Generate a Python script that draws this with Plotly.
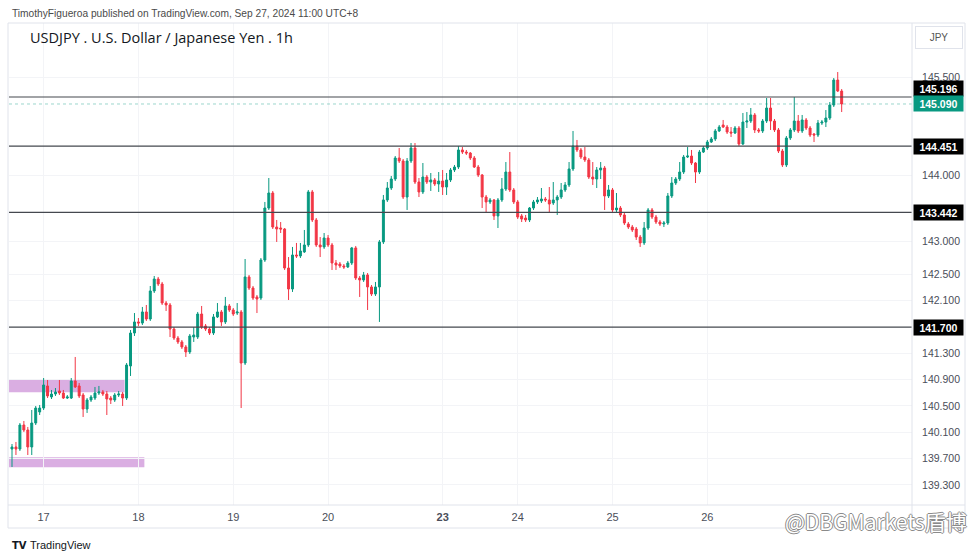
import plotly.graph_objects as go
import pandas as pd

# ---------------- data ----------------
symbol_title = "USDJPY . U.S. Dollar / Japanese Yen . 1h"
published_text = "TimothyFigueroa published on TradingView.com, Sep 27, 2024 11:00 UTC+8"
currency_label = "JPY"
watermark_text = "@DBGMarkets盾博"

session_1 = pd.date_range("2024-09-16 16:00", "2024-09-21 04:00", freq="h")
session_2 = pd.date_range("2024-09-23 05:00", "2024-09-27 10:00", freq="h")
times = [t.strftime("%Y-%m-%d %H:%M") for t in list(session_1) + list(session_2)]

open_ = [
    139.846, 139.877, 139.846, 140.211, 140.135, 139.877, 140.241, 140.409, 140.469, 140.804,
    140.637, 140.682, 140.728, 140.697, 140.621, 140.621, 140.880, 140.804, 140.667, 140.454,
    140.591, 140.621, 140.697, 140.713, 140.682, 140.621, 140.591, 140.667, 140.682, 140.621,
    141.108, 141.609, 141.777, 141.761, 141.929, 141.822, 142.248, 142.430, 142.354, 142.065,
    142.035, 141.670, 141.533, 141.473, 141.397, 141.321, 141.548, 141.548, 141.898, 141.716,
    141.670, 141.609, 141.853, 141.929, 141.777, 142.020, 141.959, 141.913, 141.929, 141.153,
    142.461, 142.293, 142.157, 142.141, 142.719, 143.509, 143.737, 143.220, 143.205, 143.190,
    142.597, 142.278, 142.795, 142.780, 142.841, 142.947, 143.753, 143.327, 142.947, 142.917,
    143.053, 142.947, 142.673, 142.658, 142.628, 142.613, 142.673, 142.902, 142.445, 142.415,
    142.491, 142.309, 142.202, 142.309, 142.993, 143.631, 143.813, 143.950, 144.269, 144.224,
    143.676, 144.224, 144.421, 143.904, 143.753, 143.980, 143.904, 143.935, 143.874, 143.919,
    143.828, 143.935, 144.087, 144.132, 144.391, 144.360, 144.345, 144.269, 144.132, 144.011,
    143.676, 143.601, 143.631, 143.388, 143.631, 143.798, 144.056, 143.783, 143.601, 143.388,
    143.357, 143.327, 143.509, 143.601, 143.616, 143.646, 143.631, 143.585, 143.631, 143.676,
    143.783, 143.859, 144.102, 144.451, 144.391, 144.284, 144.239, 143.980, 143.950, 144.087,
    144.117, 143.692, 143.783, 143.479, 143.509, 143.403, 143.266, 143.220, 143.190, 143.068,
    142.978, 143.205, 143.479, 143.372, 143.296, 143.266, 143.281, 143.692, 143.889, 143.950,
    144.056, 144.284, 144.299, 144.193, 144.056, 144.360, 144.421, 144.512, 144.558, 144.680,
    144.771, 144.740, 144.664, 144.649, 144.725, 144.482, 144.816, 144.831, 144.923, 144.695,
    144.680, 144.831, 145.029, 144.831, 144.695, 144.375, 144.163, 144.573, 144.695, 144.831,
    144.680, 144.847, 144.725, 144.634, 144.618, 144.801, 144.816, 144.877, 145.074, 145.454,
    145.287,
]
high = [
    139.922, 139.953, 140.241, 140.272, 140.181, 140.439, 140.500, 140.515, 140.925, 140.895,
    140.743, 140.773, 140.895, 140.743, 140.667, 140.925, 141.245, 140.849, 140.697, 140.621,
    140.667, 140.789, 140.804, 140.743, 140.728, 140.652, 140.697, 140.728, 140.713, 141.153,
    141.655, 141.913, 141.837, 142.005, 142.035, 142.324, 142.476, 142.461, 142.385, 142.096,
    142.065, 141.700, 141.564, 141.503, 141.427, 141.594, 141.700, 141.929, 142.020, 141.746,
    141.700, 141.898, 142.065, 141.959, 142.157, 142.050, 141.989, 142.065, 141.959, 142.734,
    142.491, 142.324, 142.187, 142.749, 143.601, 143.965, 143.768, 143.327, 143.296, 143.205,
    142.764, 142.917, 142.978, 142.978, 143.175, 143.783, 143.783, 143.357, 143.068, 143.129,
    143.099, 142.978, 142.719, 142.689, 142.658, 142.704, 142.917, 142.932, 142.476, 142.537,
    142.521, 142.339, 142.385, 143.023, 143.707, 143.904, 143.996, 144.299, 144.421, 144.254,
    144.269, 144.497, 144.497, 143.965, 144.193, 144.011, 144.041, 143.965, 144.056, 144.087,
    144.041, 144.117, 144.163, 144.451, 144.436, 144.391, 144.360, 144.299, 144.163, 144.026,
    143.707, 143.661, 143.646, 143.661, 143.965, 144.208, 144.360, 143.813, 143.631, 143.418,
    143.403, 143.524, 143.631, 143.676, 143.813, 143.676, 143.828, 143.904, 143.707, 143.889,
    143.904, 144.208, 144.680, 144.543, 144.421, 144.436, 144.269, 144.208, 144.132, 144.208,
    144.148, 143.859, 143.813, 143.737, 143.539, 143.433, 143.296, 143.251, 143.220, 143.099,
    143.296, 143.509, 143.509, 143.403, 143.327, 143.312, 143.737, 143.980, 143.980, 144.208,
    144.315, 144.436, 144.391, 144.208, 144.391, 144.451, 144.543, 144.588, 144.710, 144.771,
    144.847, 144.771, 144.740, 144.755, 144.755, 144.953, 144.968, 145.029, 144.953, 144.725,
    144.862, 145.181, 145.181, 144.862, 144.725, 144.406, 144.603, 144.725, 145.196, 144.923,
    144.923, 144.877, 144.755, 144.649, 144.847, 144.847, 144.998, 145.120, 145.485, 145.576,
    145.317,
]
low = [
    139.573, 139.755, 139.816, 140.105, 139.755, 139.755, 140.211, 140.363, 140.439, 140.621,
    140.606, 140.652, 140.667, 140.606, 140.606, 140.606, 140.773, 140.621, 140.333, 140.394,
    140.561, 140.591, 140.667, 140.652, 140.363, 140.530, 140.561, 140.637, 140.500, 140.591,
    140.956, 141.564, 141.716, 141.731, 141.792, 141.792, 142.217, 142.324, 142.035, 141.944,
    141.548, 141.503, 141.442, 141.366, 141.245, 141.290, 141.473, 141.518, 141.670, 141.640,
    141.579, 141.579, 141.837, 141.716, 141.746, 141.929, 141.868, 141.883, 140.469, 141.123,
    142.263, 142.111, 141.913, 142.111, 142.689, 143.479, 143.190, 142.993, 143.129, 142.567,
    142.111, 142.233, 142.749, 142.749, 142.826, 142.917, 143.296, 142.917, 142.764, 142.887,
    142.917, 142.567, 142.567, 142.597, 142.582, 142.597, 142.643, 142.415, 142.157, 142.385,
    141.959, 142.172, 142.172, 141.777, 142.962, 143.601, 143.783, 143.919, 144.193, 143.646,
    143.479, 144.193, 143.874, 143.676, 143.722, 143.874, 143.768, 143.844, 143.753, 143.707,
    143.707, 143.904, 144.056, 144.102, 144.330, 144.315, 144.239, 144.117, 143.980, 143.509,
    143.448, 143.570, 143.327, 143.205, 143.601, 143.768, 143.753, 143.570, 143.342, 143.296,
    143.296, 143.296, 143.479, 143.570, 143.585, 143.601, 143.433, 143.555, 143.403, 143.646,
    143.753, 143.828, 144.071, 144.360, 144.254, 144.208, 143.950, 143.859, 143.813, 143.950,
    143.479, 143.661, 143.448, 143.448, 143.372, 143.251, 143.190, 143.144, 143.023, 142.917,
    142.947, 143.175, 143.342, 143.266, 143.236, 143.220, 143.251, 143.661, 143.859, 143.919,
    144.026, 144.269, 144.163, 143.889, 144.026, 144.345, 144.391, 144.497, 144.528, 144.664,
    144.725, 144.634, 144.588, 144.634, 144.451, 144.467, 144.725, 144.801, 144.649, 144.649,
    144.649, 144.801, 144.695, 144.664, 144.345, 144.132, 144.132, 144.543, 144.664, 144.649,
    144.649, 144.695, 144.588, 144.512, 144.588, 144.771, 144.740, 144.847, 145.044, 145.272,
    144.968,
]
close = [
    139.877, 139.846, 140.211, 140.135, 139.877, 140.241, 140.469, 140.469, 140.819, 140.652,
    140.682, 140.713, 140.697, 140.621, 140.637, 140.880, 140.789, 140.652, 140.454, 140.591,
    140.637, 140.697, 140.713, 140.682, 140.606, 140.591, 140.667, 140.682, 140.621, 141.123,
    141.609, 141.777, 141.761, 141.929, 141.822, 142.248, 142.430, 142.354, 142.065, 142.035,
    141.670, 141.533, 141.473, 141.397, 141.321, 141.564, 141.579, 141.898, 141.700, 141.670,
    141.609, 141.853, 141.929, 141.777, 142.020, 141.959, 141.898, 141.929, 141.153, 142.461,
    142.293, 142.141, 142.126, 142.719, 143.509, 143.737, 143.220, 143.190, 143.190, 142.597,
    142.278, 142.795, 142.780, 142.856, 142.947, 143.753, 143.327, 142.947, 142.917, 143.053,
    142.947, 142.673, 142.643, 142.628, 142.613, 142.673, 142.902, 142.445, 142.415, 142.491,
    142.309, 142.202, 142.309, 142.993, 143.631, 143.813, 143.950, 144.269, 144.224, 143.676,
    144.224, 144.421, 143.904, 143.753, 143.980, 143.904, 143.935, 143.874, 143.919, 143.828,
    143.935, 144.087, 144.132, 144.391, 144.360, 144.345, 144.269, 144.132, 144.011, 143.676,
    143.601, 143.631, 143.388, 143.631, 143.798, 144.056, 143.783, 143.601, 143.372, 143.342,
    143.327, 143.509, 143.601, 143.631, 143.646, 143.631, 143.570, 143.631, 143.676, 143.783,
    143.859, 144.102, 144.451, 144.391, 144.284, 144.239, 143.980, 143.950, 144.087, 144.117,
    143.692, 143.783, 143.479, 143.509, 143.403, 143.281, 143.220, 143.175, 143.068, 142.978,
    143.205, 143.479, 143.372, 143.296, 143.266, 143.281, 143.692, 143.889, 143.950, 144.056,
    144.284, 144.299, 144.193, 144.056, 144.360, 144.421, 144.512, 144.558, 144.680, 144.740,
    144.740, 144.664, 144.649, 144.725, 144.482, 144.816, 144.831, 144.923, 144.695, 144.680,
    144.831, 145.029, 144.831, 144.695, 144.375, 144.163, 144.573, 144.695, 144.831, 144.680,
    144.847, 144.725, 144.618, 144.618, 144.801, 144.816, 144.877, 145.074, 145.454, 145.287,
    145.090,
]

level_prices = [145.196, 144.451, 143.442, 141.700]
last_price = 145.090

zone_low = [140.71, 139.57]
zone_high = [140.91, 139.72]
zone_end = ["2024-09-17 20:00", "2024-09-18 01:00"]

price_ticks = [139.3, 139.7, 140.1, 140.5, 140.9, 141.3, 142.1, 142.5,
               143.0, 144.0, 145.5]
day_labels = ["17", "18", "19", "20", "23", "24", "25", "26"]
week_start_day = "23"

assert len(times) == len(open_) == len(high) == len(low) == len(close)

# ---------------- layout helpers ----------------
W, H = 975, 559
ML, MR, MT, MB = 9, 63, 23, 54
PW = W - ML - MR
PH = H - MT - MB


def px(x):
    return (x - ML) / PW


def py(y):
    return (H - MB - y) / PH


UP = "#089981"
DOWN = "#F23645"
TXT = "#131722"
AXIS_TXT = "#4a4e59"
FRAME = "#e0e3eb"
GRID = "#f3f4f7"
FONT = "Liberation Sans"

# day ticks: first bar of each labelled day
tick_vals, tick_text = [], []
for d in day_labels:
    for t in times:
        if t[8:10] == d:
            tick_vals.append(t)
            tick_text.append(f"<b>{d}</b>" if d == week_start_day else d)
            break

fig = go.Figure()
fig.add_trace(go.Candlestick(
    x=times, open=open_, high=high, low=low, close=close,
    increasing=dict(line=dict(color=UP, width=1), fillcolor=UP),
    decreasing=dict(line=dict(color=DOWN, width=1), fillcolor=DOWN),
    whiskerwidth=0, showlegend=False, hoverinfo="skip",
))

shapes = []
for lo, hi, end in zip(zone_low, zone_high, zone_end):
    shapes.append(dict(type="rect", xref="x", yref="y",
                       x0=-2, x1=times.index(end) + 0.5, y0=lo, y1=hi,
                       fillcolor="rgba(206,147,216,0.75)", line=dict(width=0),
                       layer="below"))
for lv in level_prices:
    shapes.append(dict(type="line", xref="paper", yref="y", x0=0, x1=1, y0=lv, y1=lv,
                       line=dict(color="#45484f", width=1.2)))
shapes.append(dict(type="line", xref="paper", yref="y", x0=0, x1=1, y0=last_price, y1=last_price,
                   line=dict(color="rgba(8,153,129,0.4)", width=1, dash="dot")))
shapes.append(dict(type="rect", xref="paper", yref="paper", x0=px(8), x1=px(965),
                   y0=py(528), y1=py(23), line=dict(color=FRAME, width=1)))
shapes.append(dict(type="line", xref="paper", yref="paper", x0=1, x1=1,
                   y0=py(528), y1=py(23), line=dict(color=FRAME, width=1)))
shapes.append(dict(type="line", xref="paper", yref="paper", x0=px(8), x1=px(965),
                   y0=0, y1=0, line=dict(color=FRAME, width=1)))

annotations = []
annotations.append(dict(xref="paper", yref="paper", x=px(10), y=py(13), xanchor="left",
                        yanchor="middle", text=published_text, showarrow=False,
                        font=dict(family=FONT, size=10.2, color="#4a4a4a")))
annotations.append(dict(xref="paper", yref="paper", x=px(28), y=py(37), xanchor="left",
                        yanchor="middle", text=symbol_title, showarrow=False,
                        font=dict(family="Open Sans", size=14.5, color=TXT, weight=500)))
annotations.append(dict(xref="paper", yref="paper", x=px(939), y=py(37), xanchor="center",
                        yanchor="middle", text=currency_label, showarrow=False,
                        width=44, height=19, bgcolor="white", bordercolor=FRAME, borderwidth=1,
                        font=dict(family=FONT, size=10, color="#555")))
label_shift = {145.196: 8.5}
for lv in level_prices:
    annotations.append(dict(xref="paper", yref="y", x=px(913), y=lv, xanchor="left",
                            yanchor="middle", text=f"<b>{lv:.3f}</b>", showarrow=False,
                            yshift=label_shift.get(lv, 0),
                            width=47, height=13, bgcolor="#000000", borderpad=1,
                            font=dict(family=FONT, size=10.5, color="white")))
annotations.append(dict(xref="paper", yref="y", x=px(913), y=last_price, xanchor="left",
                        yanchor="middle", text=f"<b>{last_price:.3f}</b>", showarrow=False,
                        width=47, height=13, bgcolor=UP, borderpad=1,
                        font=dict(family=FONT, size=10.5, color="white")))
annotations.append(dict(xref="paper", yref="paper", x=px(10), y=py(545), xanchor="left",
                        yanchor="middle", text="<b>TV</b>", showarrow=False,
                        font=dict(family="DejaVu Sans", size=10, color=TXT)))
annotations.append(dict(xref="paper", yref="paper", x=px(28), y=py(545), xanchor="left",
                        yanchor="middle", text="TradingView", showarrow=False,
                        font=dict(family=FONT, size=11, color=TXT)))
annotations.append(dict(xref="paper", yref="paper", x=px(969), y=py(521), xanchor="right",
                        yanchor="middle", text=watermark_text, showarrow=False,
                        font=dict(family="Noto Sans CJK SC", size=21, color="white",
                                  shadow="-1px 0 #8a8a8a, 1px 0 #8a8a8a, 0 -1px #8a8a8a, 0 1px #8a8a8a")))

fig.update_layout(
    width=W, height=H,
    margin=dict(l=ML, r=MR, t=MT, b=MB, pad=0),
    paper_bgcolor="white", plot_bgcolor="white",
    shapes=shapes, annotations=annotations,
    showlegend=False,
    xaxis=dict(type="category", range=[-0.76, 227.8], rangeslider=dict(visible=False),
               tickmode="array", tickvals=tick_vals, ticktext=tick_text,
               showgrid=True, gridcolor=GRID, gridwidth=1, zeroline=False,
               showline=False, ticks="outside", ticklen=2, tickcolor="rgba(0,0,0,0)",
               tickfont=dict(family=FONT, size=11, color=AXIS_TXT), fixedrange=True),
    yaxis=dict(side="right", range=[138.995, 146.321], tickmode="array",
               tickvals=price_ticks, ticktext=[f"{v:.3f}" for v in price_ticks],
               showgrid=True, gridcolor=GRID, gridwidth=1, zeroline=False,
               showline=False, ticks="outside", ticklen=7, tickcolor="rgba(0,0,0,0)",
               tickfont=dict(family=FONT, size=10.5, color=AXIS_TXT), fixedrange=True),
)

fig.write_html("out.html", config={"displayModeBar": False},
               post_script="document.body.style.margin='0';")
